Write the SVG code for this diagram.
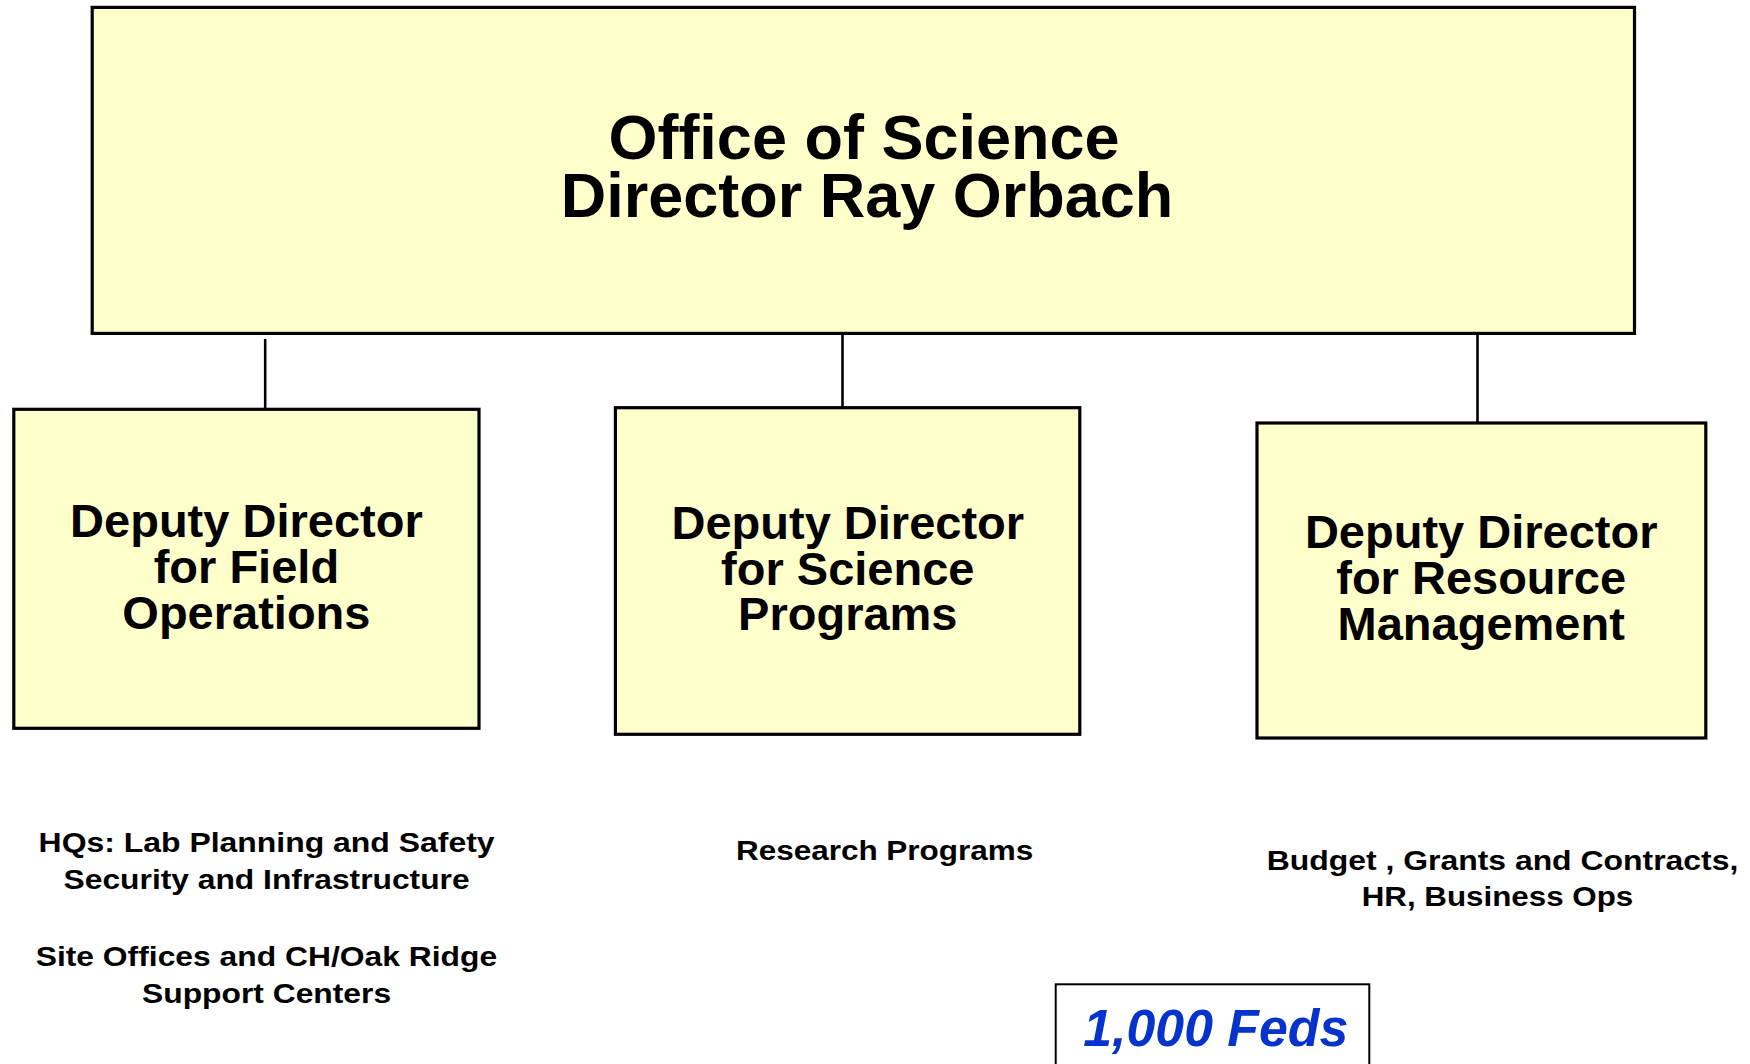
<svg xmlns="http://www.w3.org/2000/svg" width="1750" height="1064" viewBox="0 0 1750 1064">
  <style>
    .box { fill: #FFFFCC; stroke: #000; stroke-width: 3.2; }
    .link { stroke: #000; stroke-width: 2.6; fill: none; }
    .title { font-family: "Liberation Sans", Arial, sans-serif; font-weight: bold; font-size: 63px; fill: #000; text-anchor: middle; }
    .dept { font-family: "Liberation Sans", Arial, sans-serif; font-weight: bold; font-size: 47px; fill: #000; text-anchor: middle; }
    .note { font-family: "Liberation Sans", Arial, sans-serif; font-weight: bold; font-size: 28px; fill: #000; text-anchor: middle; }
    .feds { font-family: "Liberation Sans", Arial, sans-serif; font-weight: bold; font-style: italic; font-size: 51px; fill: #0533CC; text-anchor: middle; }
  </style>

  <rect width="1750" height="1064" fill="#FFFFFF"/>

  <!-- reporting lines -->
  <g id="connectors">
    <line class="link" x1="265.2" y1="339" x2="265.2" y2="409.3"/>
    <line class="link" x1="842.5" y1="333.3" x2="842.5" y2="407.7"/>
    <line class="link" x1="1477.5" y1="333.3" x2="1477.5" y2="423"/>
  </g>

  <g id="director">
    <rect class="box" x="92.2" y="7.4" width="1542.3" height="326"/>
    <text class="title" x="864" y="159">Office of Science</text>
    <text class="title" x="867" y="217">Director Ray Orbach</text>
  </g>

  <g id="field-operations">
    <rect class="box" x="13.8" y="409.3" width="465.2" height="319"/>
    <text class="dept" x="246.4" y="536.7">Deputy Director</text>
    <text class="dept" x="246.4" y="582.7">for Field</text>
    <text class="dept" x="246.4" y="628.5">Operations</text>
  </g>

  <g id="science-programs">
    <rect class="box" x="615.4" y="407.7" width="464.4" height="326.6"/>
    <text class="dept" x="847.8" y="539.3">Deputy Director</text>
    <text class="dept" x="847.8" y="584.5">for Science</text>
    <text class="dept" x="847.8" y="630">Programs</text>
  </g>

  <g id="resource-management">
    <rect class="box" x="1257" y="423" width="448.8" height="315"/>
    <text class="dept" x="1481.2" y="548.3">Deputy Director</text>
    <text class="dept" x="1481.2" y="594.3">for Resource</text>
    <text class="dept" x="1481.2" y="640">Management</text>
  </g>

  <!-- functions under each deputy -->
  <g id="field-functions">
    <text class="note" x="266.6" y="852.3" textLength="456" lengthAdjust="spacingAndGlyphs">HQs: Lab Planning and Safety</text>
    <text class="note" x="266.6" y="889.3" textLength="406" lengthAdjust="spacingAndGlyphs">Security and Infrastructure</text>
    <text class="note" x="266.4" y="966" textLength="461.4" lengthAdjust="spacingAndGlyphs">Site Offices and CH/Oak Ridge</text>
    <text class="note" x="266.6" y="1003.3" textLength="249" lengthAdjust="spacingAndGlyphs">Support Centers</text>
  </g>

  <g id="science-functions">
    <text class="note" x="884.6" y="860" textLength="297.3" lengthAdjust="spacingAndGlyphs">Research Programs</text>
  </g>

  <g id="resource-functions">
    <text class="note" x="1502.5" y="869.5" textLength="471.6" lengthAdjust="spacingAndGlyphs">Budget , Grants and Contracts,</text>
    <text class="note" x="1497.5" y="905.5" textLength="271.6" lengthAdjust="spacingAndGlyphs">HR, Business Ops</text>
  </g>

  <g id="staff-count">
    <rect x="1055.7" y="984.3" width="313.6" height="100" fill="#FFFFFF" stroke="#000" stroke-width="2"/>
    <text class="feds" x="1215.8" y="1045.7" textLength="265" lengthAdjust="spacingAndGlyphs">1,000 Feds</text>
  </g>
</svg>
